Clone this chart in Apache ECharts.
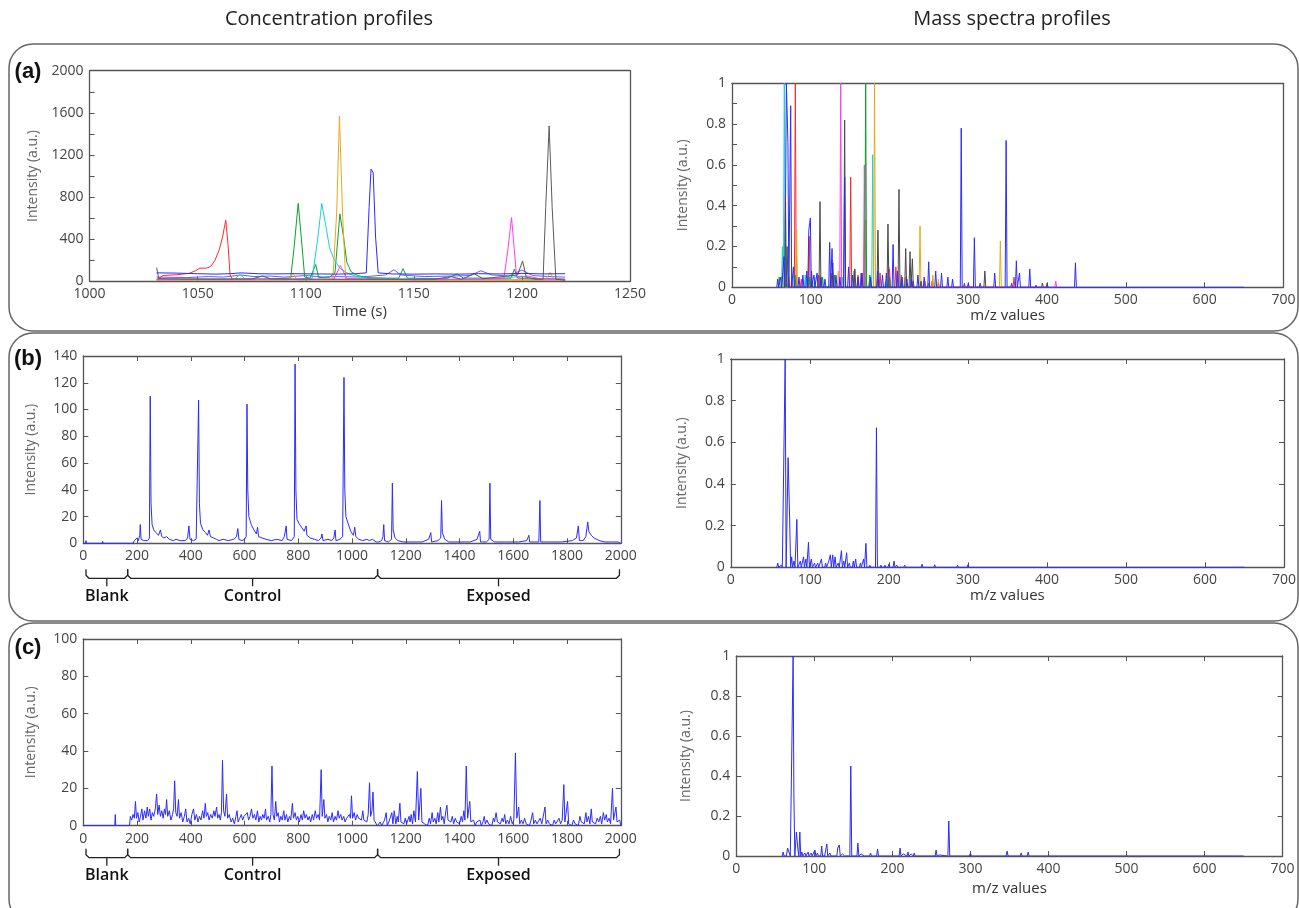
<!DOCTYPE html>
<html>
<head>
<meta charset="utf-8">
<script src="https://cdn.jsdelivr.net/npm/echarts@6/dist/echarts.min.js"></script>
<style>
html, body { margin: 0; background: #fff; }
#main { width: 1299px; height: 908px; }
</style>
</head>
<body>
<div id="main"></div>
<script>
// ---- (a) concentration profiles: [time (s), intensity]
var aRed = [[1031,15],[1034,55],[1040,62],[1046,75],[1049,100],[1051,125],[1054,125],[1056,140],[1058,200],[1060,300],[1061.5,420],[1063,580],[1064,360],[1065,60],[1066,20],[1080,18],[1100,15],[1120,14],[1140,15],[1160,12],[1180,14],[1200,12],[1220,14]];
var aGreen = [[1031,20],[1050,22],[1070,20],[1085,25],[1093,30],[1094.5,300],[1096.5,740],[1098,400],[1099.5,40],[1102,30],[1104.6,160],[1106,35],[1111,40],[1113.5,80],[1115.8,640],[1117.5,420],[1119,180],[1121,90],[1124,55],[1128,35],[1138,30],[1143,30],[1145,120],[1147,30],[1165,25],[1170,70],[1173,30],[1185,30],[1195,30],[1196.5,115],[1198,30],[1210,25],[1220,20]];
var aCyan = [[1031,15],[1060,18],[1067,20],[1069.6,65],[1072,20],[1095,20],[1103,30],[1105.5,400],[1107.4,740],[1109,560],[1111,320],[1113,210],[1116,120],[1120,70],[1124,45],[1130,25],[1160,20],[1190,22],[1200,50],[1204,20],[1220,15]];
var aOrange = [[1031,10],[1060,10],[1092,12],[1094,80],[1096,12],[1112.5,15],[1114.3,650],[1115.6,1570],[1117,650],[1118.5,15],[1150,10],[1200,10],[1211,15],[1213,85],[1215,15],[1220,10]];
var aBlue = [[1031,80],[1040,78],[1050,72],[1058,68],[1065,72],[1070,80],[1078,72],[1085,70],[1095,72],[1105,70],[1115,68],[1123,72],[1128,80],[1129.3,700],[1130.2,1065],[1131.2,1030],[1132.3,420],[1133.5,80],[1140,70],[1150,68],[1160,70],[1170,68],[1180,72],[1190,70],[1200,75],[1210,70],[1220,72]];
var aViolet = [[1031,40],[1045,35],[1055,45],[1062,40],[1070,60],[1076,45],[1083,50],[1090,40],[1100,55],[1108,40],[1115,45],[1125,40],[1137,60],[1140.8,110],[1144,60],[1155,45],[1168,50],[1176,55],[1181,100],[1186,60],[1194,50],[1200,107],[1205,55],[1212,45],[1220,40]];
var aMagenta = [[1031,15],[1060,15],[1100,15],[1113,20],[1116,150],[1119,25],[1150,15],[1180,20],[1191.7,30],[1193.5,300],[1195.2,605],[1196.5,300],[1197.5,40],[1203,50],[1208,25],[1220,20]];
var aGray = [[1031,130],[1032,25],[1050,20],[1075,22],[1080,50],[1084,22],[1120,20],[1160,20],[1167,45],[1172,20],[1178,70],[1182,25],[1198,60],[1200.3,193],[1202,40],[1206,20],[1209.8,20],[1211,700],[1212.6,1476],[1214,700],[1215.7,20],[1220,10]];

// ---- (a) mass spectra peaks: [m/z, relative intensity]
var msBlue = [[58,0.04],[62,0.05],[66,0.15],[69,1.0],[71,0.71],[74.5,0.89],[78,0.1],[85,0.05],[90,0.06],[95,0.08],[97.5,0.28],[99.5,0.34],[104,0.06],[108,0.07],[113,0.05],[118,0.04],[124,0.22],[127,0.19],[132,0.06],[137,0.05],[143,0.54],[148,0.1],[153,0.06],[160,0.05],[165,0.07],[176,0.05],[185,0.08],[191,0.06],[196,0.07],[204.5,0.21],[210,0.08],[216,0.05],[222,0.04],[228,0.04],[236,0.06],[244,0.05],[249.7,0.125],[258.6,0.08],[266,0.07],[274,0.05],[280,0.04],[291,0.78],[300,0.02],[307.7,0.243],[315,0.02],[333.5,0.07],[348,0.72],[355,0.02],[361,0.13],[365,0.07],[378,0.09],[386,0.01],[436,0.12]];
var msRed = [[72,0.05],[80.4,1.0],[88,0.04],[98,0.25],[110,0.06],[126,0.07],[150.7,0.54],[160,0.06],[175,0.05],[188,0.07],[200,0.09],[208,0.1],[215,0.06],[230,0.03],[254,0.03],[262,0.02],[358,0.05]];
var msCyan = [[64,0.2],[66.4,1.0],[93,0.06],[105,0.05],[125,0.04],[140,0.05],[170,0.05],[178.6,0.65],[195,0.03],[215,0.02]];
var msOrange = [[67,0.45],[82,0.28],[96,0.05],[112,0.06],[128,0.05],[135,0.08],[165,0.07],[169,0.33],[181,1.0],[200,0.04],[220,0.05],[238.7,0.3],[255,0.06],[262,0.04],[340.7,0.227]];
var msMagenta = [[76,0.05],[110,0.04],[138,1.0],[168,0.6],[185,0.04],[199,0.1],[210,0.07],[245,0.03],[300,0.01],[411,0.03]];
var msBlack = [[70,0.2],[101,0.08],[111.7,0.42],[128,0.12],[143,0.82],[156,0.09],[164,0.07],[185.3,0.28],[198,0.31],[212,0.48],[220.5,0.19],[226,0.175],[229,0.14],[240,0.03],[295,0.02],[321,0.08],[394,0.02],[400,0.02]];
var msGreen = [[60,0.05],[68,0.42],[80,0.06],[98,0.05],[115,0.05],[130,0.06],[155,0.08],[169.7,1.0],[175,0.06],[200,0.05],[215,0.03],[228,0.03],[250,0.02]];
var specEnd = 650;

// ---- (b) concentration profile over samples
var bConc = [[0,0],[8,0],[10,2],[12,0],[70,0],[72,1.5],[74,0],[160,0],[185,0],[190,2],[195,1],[200,4],[205,2],[210,6],[212,14],[215,3],[225,2],[240,2],[246,4],[249,110],[252,30],[256,14],[262,10],[270,8],[280,6],[287,10],[292,5],[300,4],[310,5],[320,3],[335,2],[345,3],[360,2],[380,2],[388,4],[393,13],[397,3],[410,2],[420,3],[426,4],[429,107],[432,30],[436,15],[445,10],[455,8],[462,6],[468,10],[473,5],[485,4],[495,3],[505,2],[520,3],[540,2],[560,3],[570,5],[575,11],[579,3],[590,2],[600,3],[606,5],[609,104],[612,40],[616,20],[625,14],[635,10],[644,7],[648.5,12],[652,5],[665,4],[680,3],[700,2],[720,3],[740,2],[748,5],[755,13],[758,3],[775,2],[785,5],[788,134],[791,40],[795,18],[802,15],[812,12],[822,9],[829,13],[832,6],[845,4],[860,3],[875,2],[885,4],[888,7],[892,2],[910,3],[925,2],[932,4],[937,10],[940,2],[955,3],[965,5],[970,124],[973,40],[977,20],[985,15],[995,9],[1005,6],[1010,12],[1014,5],[1025,3],[1040,2],[1055,3],[1065,2],[1075,3],[1090,1],[1100,1],[1110,2],[1115,5],[1118,14],[1121,2],[1135,1],[1147,3],[1150,45],[1153,10],[1160,4],[1170,2],[1190,1],[1220,1],[1260,1],[1285,3],[1293,8],[1296,1],[1320,2],[1330,4],[1333,32],[1336,8],[1345,3],[1360,1],[1400,1],[1440,1],[1465,3],[1475,9],[1478,1],[1500,1],[1510,3],[1513,45],[1516,3],[1530,1],[1570,1],[1620,1],[1650,2],[1658,6],[1661,1],[1680,1],[1695,1],[1699,32],[1702,1],[1740,1],[1780,1],[1820,2],[1835,4],[1842,13],[1846,2],[1860,2],[1870,5],[1877,16],[1881,9],[1890,6],[1900,4],[1920,2],[1940,1],[1970,1],[1990,1],[2000,0]];
var bMs = [[59.4,0.02],[64,0.01],[68.8,1.0],[72.5,0.526],[74.5,0.227],[77,0.05],[80,0.03],[83.6,0.23],[88,0.03],[92,0.05],[95,0.04],[98.3,0.12],[102,0.04],[106,0.02],[110,0.02],[114.7,0.04],[120,0.02],[124,0.03],[126,0.06],[129,0.06],[132,0.05],[136,0.02],[140,0.08],[143,0.03],[146.6,0.07],[150,0.02],[155,0.03],[158,0.04],[164,0.02],[168,0.04],[171,0.115],[176,0.01],[184.3,0.67],[190,0.01],[195,0.01],[200,0.015],[206.6,0.03],[210,0.01],[220,0.01],[228,0.008],[242,0.015],[258,0.012],[264,0.008],[287,0.01],[300,0.012],[318,0.008],[325,0.005]];

// ---- (c) concentration profile over samples
var cConc = [[0,0],[90,0],[95,1],[97,0],[117,0],[119,6],[121,0],[172,0],[175,5],[180,3],[185,6],[190,4],[194,13],[198,4],[203,7],[208,2],[213,5],[218,9],[222,3],[228,8],[233,4],[238,10],[242,5],[247,9],[252,3],[257,7],[262,5],[268,9],[273,17],[277,6],[282,11],[287,5],[292,8],[297,4],[302,9],[306,6],[310,14],[314,5],[320,8],[326,3],[332,6],[336,9],[340,24],[344,7],[349,5],[354,14],[358,4],[364,7],[370,2],[376,5],[381,9],[386,2],[392,4],[398,1],[404,6],[410,9],[415,3],[421,6],[427,2],[432,5],[438,3],[444,8],[449,4],[454,12],[458,5],[463,7],[468,3],[474,6],[480,4],[486,8],[490,5],[496,10],[500,4],[505,6],[510,3],[514,7],[518,35],[522,8],[527,5],[533,17],[537,4],[543,6],[550,2],[556,4],[562,1],[568,5],[572,8],[576,2],[582,4],[588,6],[593,3],[598,5],[604,4],[610,7],[615,3],[620,5],[626,9],[631,4],[637,6],[642,3],[648,8],[653,2],[658,5],[663,3],[668,6],[673,4],[678,9],[682,3],[688,5],[694,2],[698,6],[702,32],[706,6],[711,3],[716,13],[720,5],[725,7],[730,2],[735,5],[740,3],[746,8],[750,3],[756,6],[761,2],[767,5],[772,3],[778,12],[782,4],[788,7],[793,3],[798,5],[804,2],[810,6],[815,3],[820,8],[825,4],[830,6],[836,3],[841,5],[846,2],[852,6],[857,3],[863,8],[868,4],[874,6],[879,3],[885,30],[889,5],[895,14],[899,4],[905,6],[910,2],[915,5],[921,3],[926,7],[931,2],[937,5],[942,3],[948,8],[952,4],[958,6],[963,3],[969,5],[974,2],[980,4],[985,3],[990,6],[994,4],[998,16],[1002,4],[1008,7],[1013,3],[1019,6],[1024,4],[1030,5],[1035,3],[1040,8],[1044,3],[1050,4],[1055,2],[1060,6],[1065,23],[1069,5],[1074,8],[1078,18],[1082,3],[1088,2],[1094,0],[1100,1],[1105,2],[1110,0],[1116,1],[1121,3],[1127,7],[1131,0],[1137,2],[1142,1],[1148,7],[1152,1],[1157,8],[1163,1],[1168,5],[1172,2],[1178,12],[1182,2],[1188,3],[1193,1],[1198,4],[1203,1],[1212,5],[1216,2],[1220,6],[1225,1],[1230,8],[1236,2],[1243,29],[1248,3],[1256,20],[1260,2],[1265,3],[1270,1],[1276,2],[1281,0],[1287,4],[1292,1],[1298,7],[1302,2],[1308,4],[1313,1],[1319,7],[1323,2],[1329,10],[1333,3],[1338,5],[1343,1],[1349,8],[1353,11],[1357,3],[1362,4],[1368,2],[1373,5],[1378,1],[1384,4],[1389,2],[1395,3],[1400,1],[1406,5],[1411,2],[1416,8],[1420,3],[1425,32],[1430,4],[1438,13],[1442,2],[1447,1],[1452,3],[1458,0],[1464,2],[1470,1],[1476,3],[1481,0],[1487,2],[1492,5],[1496,1],[1502,3],[1508,1],[1514,2],[1520,0],[1526,4],[1530,2],[1536,7],[1541,2],[1546,3],[1552,1],[1558,4],[1563,2],[1568,6],[1572,1],[1578,3],[1584,1],[1590,5],[1596,1],[1602,3],[1608,39],[1613,4],[1620,10],[1624,1],[1630,3],[1636,1],[1642,4],[1648,1],[1654,2],[1660,0],[1666,3],[1672,7],[1676,1],[1682,3],[1688,1],[1694,2],[1700,4],[1706,1],[1712,2],[1718,10],[1722,1],[1728,3],[1734,1],[1740,2],[1746,0],[1752,3],[1758,1],[1764,2],[1770,4],[1776,1],[1782,3],[1788,22],[1792,2],[1802,13],[1806,1],[1812,2],[1818,0],[1824,3],[1830,1],[1836,2],[1842,0],[1848,5],[1853,2],[1858,3],[1864,1],[1870,7],[1874,2],[1880,5],[1885,1],[1890,9],[1894,2],[1900,3],[1906,1],[1912,4],[1918,2],[1924,5],[1929,1],[1935,7],[1940,3],[1946,6],[1950,2],[1956,4],[1962,1],[1969,20],[1973,3],[1978,4],[1982,10],[1986,2],[1992,1],[1996,3],[2000,0]];
var cMs = [[60,0.02],[63,0.01],[65.7,0.04],[68,0.03],[72.8,1.0],[73.8,0.3],[77,0.12],[79,0.03],[81.4,0.12],[84,0.02],[88,0.015],[92,0.02],[96,0.015],[100.8,0.03],[104,0.015],[109.4,0.05],[112,0.01],[116,0.06],[120,0.015],[125,0.01],[130,0.04],[132,0.055],[136,0.01],[140,0.005],[146.7,0.45],[150,0.01],[155.8,0.065],[160,0.01],[165,0.005],[172,0.015],[177,0.005],[181,0.035],[187,0.01],[193,0.008],[200,0.005],[209.8,0.04],[214,0.01],[220,0.02],[224,0.01],[228,0.015],[240,0.005],[245,0.008],[256,0.03],[260,0.005],[272.3,0.175],[280,0.005],[287,0.005],[300,0.015],[305,0.01],[318,0.008],[330,0.005],[347,0.025],[365,0.015],[374,0.02],[383,0.005],[400,0.005]];

// sample groups under (b) and (c)
var groupNames = ['Blank', 'Control', 'Exposed'];
var groupEdges = [10, 165, 1095, 1995];

var colTitles = ['Concentration profiles', 'Mass spectra profiles'];
var panelLabels = ['(a)', '(b)', '(c)'];

// turn a list of [m/z, height] peaks into a stick-like line back to zero
function stick(peaks, end) {
    var w = 1.2, pts = [], prev = null;
    peaks.slice().sort(function(a, b){ return a[0] - b[0]; }).forEach(function(p){
        if (prev === null) pts.push([p[0] - w, 0]);
        else if (p[0] - prev > 2 * w) { pts.push([prev + w, 0]); pts.push([p[0] - w, 0]); }
        pts.push(p);
        prev = p[0];
    });
    pts.push([prev + w, 0]);
    if (end) pts.push([end, 0]);
    return pts;
}

var FONT = 'Open Sans';
var AX = '#555';
var BLUE = '#2b2bff';

var grids = [
    {left: 89.6, top: 70.7, width: 540.4, height: 210.6},
    {left: 732, top: 83.3, width: 551.4, height: 204},
    {left: 83.3, top: 356, width: 537.5, height: 187.3},
    {left: 730.8, top: 359, width: 556.8, height: 208.3},
    {left: 83.3, top: 639, width: 537.5, height: 186.7},
    {left: 736.3, top: 656, width: 546.3, height: 200}
];
var axSpec = [
    {x: [1000, 1250, 50], y: [0, 2000, 400], minor: 2, xName: 'Time (s)', xGap: 23, yGap: 50, mirror: false},
    {x: [0, 700, 100], y: [0, 1, 0.2], minor: 2, xName: 'm/z values', xGap: 19, yGap: 42, mirror: false},
    {x: [0, 2000, 200], y: [0, 140, 20], minor: 0, xName: '', xGap: 0, yGap: 45, mirror: true},
    {x: [0, 700, 100], y: [0, 1, 0.2], minor: 0, xName: 'm/z values', xGap: 21, yGap: 42, mirror: true},
    {x: [0, 2000, 200], y: [0, 100, 20], minor: 0, xName: '', xGap: 0, yGap: 45, mirror: true},
    {x: [0, 700, 100], y: [0, 1, 0.2], minor: 0, xName: 'm/z values', xGap: 25, yGap: 43, mirror: true}
];

function plain(v) { return String(+v.toFixed(6)); }

var xAxes = [], yAxes = [];
axSpec.forEach(function(s, i){
    var line = {show: true, onZero: false, lineStyle: {color: AX, width: 1.3}};
    var tick = {show: true, inside: true, length: 5, lineStyle: {color: AX}};
    var lab = {color: '#444', fontFamily: FONT, fontSize: 14, margin: 6, formatter: plain};
    var minor = {show: s.minor > 0, splitNumber: s.minor || 5, length: 5, lineStyle: {color: AX}};
    xAxes.push({gridIndex: i, type: 'value', position: 'bottom', min: s.x[0], max: s.x[1], interval: s.x[2],
        axisLine: line, axisTick: tick, axisLabel: lab, splitLine: {show: false},
        name: s.xName, nameLocation: 'middle', nameGap: s.xGap,
        nameTextStyle: {color: '#333', fontFamily: FONT, fontSize: 15}});
    xAxes.push({gridIndex: i, type: 'value', position: 'top', min: s.x[0], max: s.x[1], interval: s.x[2],
        axisLine: line, axisTick: {show: s.mirror, inside: true, length: 5, lineStyle: {color: AX}},
        axisLabel: {show: false}, splitLine: {show: false}});
    yAxes.push({gridIndex: i, type: 'value', position: 'left', min: s.y[0], max: s.y[1], interval: s.y[2],
        axisLine: line, axisTick: tick, minorTick: minor, axisLabel: lab, splitLine: {show: false},
        name: 'Intensity (a.u.)', nameLocation: 'middle', nameGap: s.yGap, nameRotate: 90,
        nameTextStyle: {color: '#666', fontFamily: FONT, fontSize: 14}});
    yAxes.push({gridIndex: i, type: 'value', position: 'right', min: s.y[0], max: s.y[1], interval: s.y[2],
        axisLine: line, axisTick: {show: s.mirror, inside: true, length: 5, lineStyle: {color: AX}},
        axisLabel: {show: false}, splitLine: {show: false}});
});

function line(gi, data, color) {
    return {type: 'line', xAxisIndex: 2 * gi, yAxisIndex: 2 * gi, data: data, showSymbol: false,
        symbol: 'none', silent: true, lineStyle: {color: color, width: 1}, animation: false};
}

var series = [
    line(0, aViolet, '#6a5cff'),
    line(0, aRed, '#ff2a2a'),
    line(0, aGreen, '#0da02a'),
    line(0, aCyan, '#10d6d0'),
    line(0, aOrange, '#e8a91a'),
    line(0, aMagenta, '#ff3cf0'),
    line(0, aGray, '#5a5a5a'),
    line(0, aBlue, BLUE),
    line(1, stick(msCyan), '#10d6d0'),
    line(1, stick(msRed), '#ff2a2a'),
    line(1, stick(msOrange), '#e8a91a'),
    line(1, stick(msMagenta), '#ff3cf0'),
    line(1, stick(msGreen), '#0da02a'),
    line(1, stick(msBlack), '#4a4a4a'),
    line(1, stick(msBlue, specEnd), BLUE),
    line(2, bConc, BLUE),
    line(3, stick(bMs, specEnd), BLUE),
    line(4, cConc, BLUE),
    line(5, stick(cMs, specEnd), BLUE)
];

var chart = echarts.init(document.getElementById('main'), null, {renderer: 'canvas'});
chart.setOption({
    animation: false,
    backgroundColor: '#fff',
    grid: grids,
    xAxis: xAxes,
    yAxis: yAxes,
    series: series
});

function txt(t, x, y, size, weight, color, family) {
    return {type: 'text', silent: true, style: {text: t, x: x, y: y, fill: color,
        font: weight + ' ' + size + 'px "' + family + '"',
        align: 'center', verticalAlign: 'middle', textAlign: 'center', textVerticalAlign: 'middle'}};
}

var graphic = [];
// panel boxes
[[44, 287], [333, 288], [623, 300]].forEach(function(b){
    graphic.push({type: 'rect', silent: true, shape: {x: 9, y: b[0], width: 1289, height: b[1], r: 24},
        style: {fill: 'none', stroke: '#666', lineWidth: 1.5}});
});
graphic.push(txt(colTitles[0], 329, 19, 20, 'normal', '#222', FONT));
graphic.push(txt(colTitles[1], 1012, 19, 20, 'normal', '#222', FONT));
[72, 359, 648].forEach(function(y, i){
    graphic.push(txt(panelLabels[i], 28, y, 22, 'bold', '#111', 'Liberation Sans'));
});

// brackets below (b) and (c)
[[2, 35, 53], [4, 32, 50]].forEach(function(b){
    var gi = b[0];
    var base = chart.convertToPixel({yAxisIndex: 2 * gi}, 0);
    var L = base + b[1];
    for (var k = 0; k < groupNames.length; k++) {
        var x0 = chart.convertToPixel({xAxisIndex: 2 * gi}, groupEdges[k]);
        var x1 = chart.convertToPixel({xAxisIndex: 2 * gi}, groupEdges[k + 1]);
        var xc = (x0 + x1) / 2;
        graphic.push({type: 'polyline', silent: true,
            shape: {points: [[x0, L - 9], [x0, L - 3], [x0 + 3, L], [x1 - 3, L], [x1, L - 3], [x1, L - 9]]},
            style: {stroke: '#222', lineWidth: 1.3, fill: null}});
        graphic.push({type: 'polyline', silent: true,
            shape: {points: [[xc, L], [xc, L + 8]]},
            style: {stroke: '#222', lineWidth: 1.3, fill: null}});
        graphic.push(txt(groupNames[k], xc, base + b[2], 16, '600', '#111', FONT));
    }
});

chart.setOption({graphic: graphic});
</script>
</body>
</html>
